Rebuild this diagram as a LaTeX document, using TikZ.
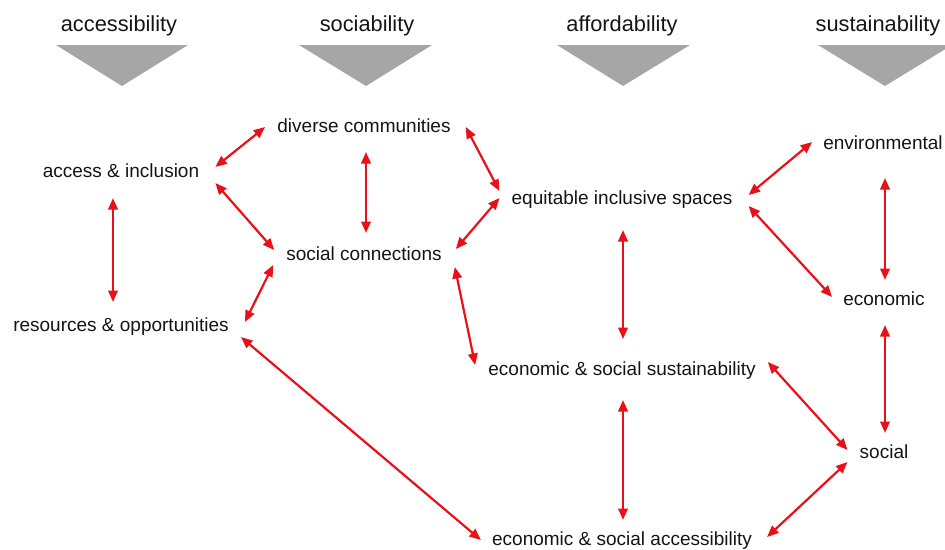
\documentclass[tikz,border=0pt]{standalone}
\usepackage{fontspec}
\setmainfont{Liberation Sans}
\usetikzlibrary{arrows.meta}
\definecolor{linkred}{RGB}{232,17,26}
\definecolor{wedgegray}{RGB}{166,166,166}
\definecolor{ink}{RGB}{20,20,20}
\begin{document}
\begin{tikzpicture}[x=1pt,y=-1pt,
  head/.style={anchor=base, inner sep=0pt, text=ink, font=\fontsize{21.8}{24}\selectfont},
  item/.style={anchor=base, inner sep=0pt, text=ink, font=\fontsize{19}{22}\selectfont},
  link/.style={draw=linkred, line width=2.2pt, {Triangle[length=11.5pt,width=9.5pt]}-{Triangle[length=11.5pt,width=9.5pt]}},
  wedge/.style={fill=wedgegray}]
\useasboundingbox (0,0) rectangle (945,549);
\clip (0,0) rectangle (945,549);

% column headings with their wedges
\node[head] (hacc) at (119,31) {accessibility};
\node[head] (hsoc) at (367,31) {sociability};
\node[head] (haff) at (622,31) {affordability};
\node[head] (hsus) at (878,31) {sustainability};
\fill[wedge] (56,45) -- (188,45) -- (122,86) -- cycle;
\fill[wedge] (299,45) -- (432,45) -- (366,86) -- cycle;
\fill[wedge] (557,45) -- (690,45) -- (623,86) -- cycle;
\fill[wedge] (818,45) -- (952,45) -- (885,86) -- cycle;

% concepts
\node[item] (acc)  at (121,177) {access \& inclusion};
\node[item] (res)  at (121,331) {resources \& opportunities};
\node[item] (div)  at (364,132) {diverse communities};
\node[item] (soc)  at (364,260) {social connections};
\node[item] (equ)  at (622,204) {equitable inclusive spaces};
\node[item] (ess)  at (622,375) {economic \& social sustainability};
\node[item] (esa)  at (622,545) {economic \& social accessibility};
\node[item] (env)  at (883,149) {environmental};
\node[item] (eco)  at (884,305) {economic};
\node[item] (socl) at (884,458) {social};

% links
\draw[link] ([shift={(16,-10)}]acc.base east) -- ([shift={(-12,-5)}]div.base west);
\draw[link] ([shift={(16,6)}]acc.base east) -- ([shift={(-12,-10)}]soc.base west);
\draw[link] ([shift={(2,20)}]div.base) -- ([shift={(2,-27)}]soc.base);
\draw[link] ([shift={(-8,21)}]acc.base) -- ([shift={(-8,-29)}]res.base);
\draw[link] ([shift={(16,-9)}]res.base east) -- ([shift={(-13,5)}]soc.base west);
\draw[link] ([shift={(15,-5)}]div.base east) -- ([shift={(-12,-13)}]equ.base west);
\draw[link] ([shift={(14,-11)}]soc.base east) -- ([shift={(-12,-6)}]equ.base west);
\draw[link] ([shift={(13,7)}]soc.base east) -- ([shift={(-13,-10)}]ess.base west);
\draw[link] ([shift={(16,-9)}]equ.base east) -- ([shift={(-11,-7)}]env.base west);
\draw[link] ([shift={(16,2)}]equ.base east) -- ([shift={(-11,-8)}]eco.base west);
\draw[link] ([shift={(2,29)}]env.base) -- ([shift={(1,-25)}]eco.base);
\draw[link] ([shift={(1,26)}]equ.base) -- ([shift={(1,-36)}]ess.base);
\draw[link] ([shift={(1,20)}]eco.base) -- ([shift={(1,-25)}]socl.base);
\draw[link] ([shift={(12,-13)}]ess.base east) -- ([shift={(-12,-8)}]socl.base west);
\draw[link] ([shift={(1,25)}]ess.base) -- ([shift={(1,-25)}]esa.base);
\draw[link] ([shift={(-12,4)}]socl.base west) -- ([shift={(15,-8)}]esa.base east);
\draw[link] ([shift={(12,6)}]res.base east) -- ([shift={(-11,-5)}]esa.base west);
\end{tikzpicture}
\end{document}
